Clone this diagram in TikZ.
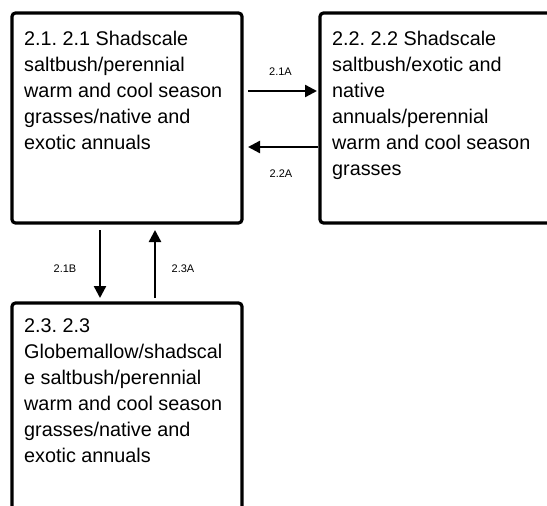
\documentclass[tikz,border=0pt]{standalone}
\usepackage{fontspec}
\setmainfont{Liberation Sans}
\frenchspacing
\usetikzlibrary{arrows.meta,calc}
\tikzset{
  box/.style={draw, line width=3.2pt, rounded corners=3.5pt, inner sep=0pt, outer sep=0pt, anchor=north west},
  txt/.style={font=\fontsize{19.8}{26}\selectfont, align=left, inner sep=0pt, anchor=north west},
  arr/.style={line width=2.4pt, -{Triangle[length=12pt,width=12pt]}},
  lab/.style={font=\fontsize{11}{13}\selectfont, inner sep=0pt}
}
\begin{document}
\begin{tikzpicture}[x=1pt,y=-1pt]
\useasboundingbox (0,0) rectangle (547,506);
\clip (0,0) rectangle (547,506);
\node[box, minimum width=230pt, minimum height=210pt] (b1) at (12,13) {};
\node[box, minimum width=260pt, minimum height=210pt] (b2) at (320,13) {};
\node[box, minimum width=230pt, minimum height=230pt] (b3) at (12,303) {};
\node[txt] (t1) at (24,30.8) {2.1. 2.1 Shadscale\\saltbush/perennial\\warm and cool season\\grasses/native and\\exotic annuals};
\node[txt] (t2) at (332,30.8) {2.2. 2.2 Shadscale\\saltbush/exotic and\\native\\annuals/perennial\\warm and cool season\\grasses};
\node[txt] (t3) at (24,318.8) {2.3. 2.3\\Globemallow/shadscal\\e saltbush/perennial\\warm and cool season\\grasses/native and\\exotic annuals};
\draw[arr] ($(b1.north east)+(6,78)$) -- node[lab, yshift=19pt, xshift=-2pt] (l1) {2.1A} ($(b2.north west)+(-3,78)$);
\draw[arr] ($(b2.north west)+(-2,134)$) -- node[lab, yshift=-27pt, xshift=-2pt] (l2) {2.2A} ($(b1.north east)+(6,134)$);
\draw[arr] ($(b1.south west)+(88,7)$) -- node[lab, xshift=-35pt, yshift=-5pt] (l3) {2.1B} ($(b3.north west)+(88,-5)$);
\draw[arr] ($(b3.north west)+(143,-5)$) -- node[lab, xshift=28pt, yshift=-5pt] (l4) {2.3A} ($(b1.south west)+(143,7)$);
\end{tikzpicture}
\end{document}
